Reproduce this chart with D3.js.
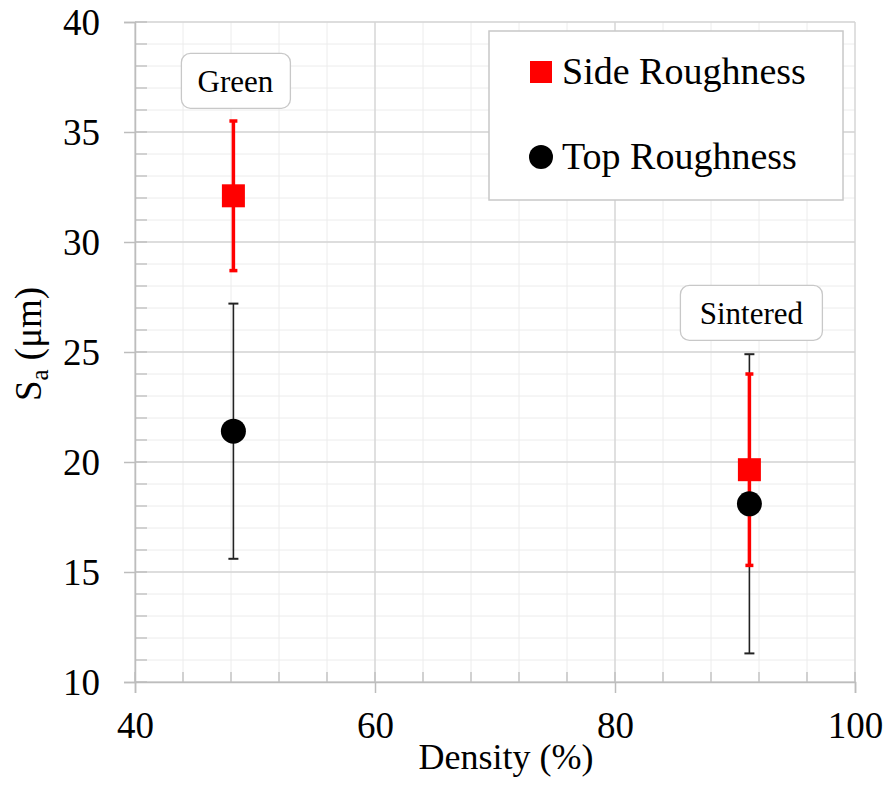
<!DOCTYPE html>
<html>
<head>
<meta charset="utf-8">
<script src="https://cdn.jsdelivr.net/npm/d3@7"></script>
<style>
  body { margin: 0; background: #fff; }
  svg { display: block; font-family: "Liberation Serif", "Times New Roman", serif; }
</style>
</head>
<body>
<div id="chart"></div>
<script>
// data
const groups = ['Green', 'Sintered'];
const density = [48.2, 91.2];
const sideRoughness = [32.1, 19.65];
const sideError = [3.4, 4.35];
const topRoughness = [21.4, 18.1];
const topError = [5.8, 6.8];
// where the group labels sit (data units)
const labelY = [37.35, 26.8];
const xTicks = [40, 60, 80, 100];
const yTicks = [10, 15, 20, 25, 30, 35, 40];

const W = 886, H = 785;
const margin = { top: 22, right: 31, bottom: 103, left: 135 };
const width = W - margin.left - margin.right;
const height = H - margin.top - margin.bottom;

const svg = d3.select('#chart').append('svg')
    .attr('width', W)
    .attr('height', H);

const g = svg.append('g')
    .attr('transform', `translate(${margin.left},${margin.top})`);

const x = d3.scaleLinear().domain([40, 100]).range([0, width]);
const y = d3.scaleLinear().domain([10, 40]).range([height, 0]);

// minor grid
const xMinor = d3.range(40, 100.1, 4);
const yMinor = d3.range(10, 40.1, 1);
g.append('g').selectAll('line').data(xMinor).enter().append('line')
    .attr('x1', d => x(d)).attr('x2', d => x(d))
    .attr('y1', 0).attr('y2', height)
    .attr('stroke', '#ececec').attr('stroke-width', 1);
g.append('g').selectAll('line').data(yMinor).enter().append('line')
    .attr('x1', 0).attr('x2', width)
    .attr('y1', d => y(d)).attr('y2', d => y(d))
    .attr('stroke', '#ececec').attr('stroke-width', 1);

// major grid
g.append('g').selectAll('line').data(xTicks).enter().append('line')
    .attr('x1', d => x(d)).attr('x2', d => x(d))
    .attr('y1', 0).attr('y2', height)
    .attr('stroke', '#d4d4d4').attr('stroke-width', 1.3);
g.append('g').selectAll('line').data(yTicks).enter().append('line')
    .attr('x1', 0).attr('x2', width)
    .attr('y1', d => y(d)).attr('y2', d => y(d))
    .attr('stroke', '#d4d4d4').attr('stroke-width', 1.3);

// minor ticks (inside)
g.append('g').selectAll('line').data(yMinor).enter().append('line')
    .attr('x1', 0).attr('x2', 12)
    .attr('y1', d => y(d)).attr('y2', d => y(d))
    .attr('stroke', '#bdbdbd').attr('stroke-width', 1.3);
g.append('g').selectAll('line').data(xMinor).enter().append('line')
    .attr('x1', d => x(d)).attr('x2', d => x(d))
    .attr('y1', height).attr('y2', height - 10)
    .attr('stroke', '#bdbdbd').attr('stroke-width', 1.3);

// axes
const xAxis = g.append('g')
    .attr('transform', `translate(0,${height})`)
    .call(d3.axisBottom(x).tickValues(xTicks).tickSize(11).tickPadding(19).tickFormat(d3.format('d')));
const yAxis = g.append('g')
    .call(d3.axisLeft(y).tickValues(yTicks).tickSize(11).tickPadding(24).tickFormat(d3.format('d')));
[xAxis, yAxis].forEach(a => {
    a.select('.domain').attr('stroke', '#bdbdbd').attr('stroke-width', 1.5);
    a.selectAll('.tick line').attr('stroke', '#bdbdbd').attr('stroke-width', 1.5);
    a.selectAll('.tick text')
        .attr('fill', '#000')
        .style('font-family', '"Liberation Serif", serif')
        .style('font-size', '37px');
});
yAxis.selectAll('.tick text').attr('dy', '0.34em');
xAxis.selectAll('.tick text').attr('dy', '0.71em');

// axis titles
svg.append('text')
    .attr('x', 506)
    .attr('y', 769)
    .attr('text-anchor', 'middle')
    .style('font-size', '36px')
    .text('Density (%)');

const yt = svg.append('text')
    .attr('transform', `translate(41,344) rotate(-90)`)
    .attr('text-anchor', 'middle')
    .style('font-size', '37px');
yt.append('tspan').text('S');
yt.append('tspan').attr('dy', 7).style('font-size', '25px').text('a');
yt.append('tspan').attr('dy', -7).text(' (μm)');

// error bars
function errorBars(vals, errs, color, lw, capW, capLw) {
    const eb = g.append('g');
    vals.forEach((v, i) => {
        const cx = x(density[i]);
        eb.append('line')
            .attr('x1', cx).attr('x2', cx)
            .attr('y1', y(v - errs[i])).attr('y2', y(v + errs[i]))
            .attr('stroke', color).attr('stroke-width', lw);
        [v - errs[i], v + errs[i]].forEach(e => {
            eb.append('line')
                .attr('x1', cx - capW / 2).attr('x2', cx + capW / 2)
                .attr('y1', y(e)).attr('y2', y(e))
                .attr('stroke', color).attr('stroke-width', capLw);
        });
    });
}
errorBars(topRoughness, topError, '#222', 1.6, 10, 2);
errorBars(sideRoughness, sideError, '#ff0000', 3.5, 8, 3.5);

// markers
const sq = 23;
g.append('g').selectAll('rect').data(sideRoughness).enter().append('rect')
    .attr('x', (d, i) => x(density[i]) - sq / 2)
    .attr('y', d => y(d) - sq / 2)
    .attr('width', sq).attr('height', sq)
    .attr('fill', '#ff0000');
g.append('g').selectAll('circle').data(topRoughness).enter().append('circle')
    .attr('cx', (d, i) => x(density[i]))
    .attr('cy', d => y(d))
    .attr('r', 12.5)
    .attr('fill', '#000');

// group labels
const lab = g.append('g').selectAll('g').data(groups).enter().append('g')
    .attr('transform', (d, i) => `translate(${x(density[i]) + 2},${y(labelY[i])})`);
lab.append('rect')
    .attr('x', (d, i) => i === 0 ? -54 : -71)
    .attr('y', -27)
    .attr('width', (d, i) => i === 0 ? 109 : 142)
    .attr('height', 55)
    .attr('rx', 9)
    .attr('fill', '#fff')
    .attr('stroke', '#c8c8c8')
    .attr('stroke-width', 1.3);
lab.append('text')
    .attr('text-anchor', 'middle')
    .attr('y', 12)
    .style('font-size', '31px')
    .text(d => d);

// legend
const leg = svg.append('g').attr('transform', 'translate(489,31)');
leg.append('rect')
    .attr('width', 354).attr('height', 169)
    .attr('fill', '#fff')
    .attr('stroke', '#c8c8c8')
    .attr('stroke-width', 1.5);
leg.append('rect')
    .attr('x', 41).attr('y', 30).attr('width', 22).attr('height', 22)
    .attr('fill', '#ff0000');
leg.append('text')
    .attr('x', 73).attr('y', 53)
    .style('font-size', '38px')
    .text('Side Roughness');
leg.append('circle')
    .attr('cx', 52).attr('cy', 126).attr('r', 12)
    .attr('fill', '#000');
leg.append('text')
    .attr('x', 73).attr('y', 138)
    .style('font-size', '38px')
    .text('Top Roughness');
</script>
</body>
</html>
